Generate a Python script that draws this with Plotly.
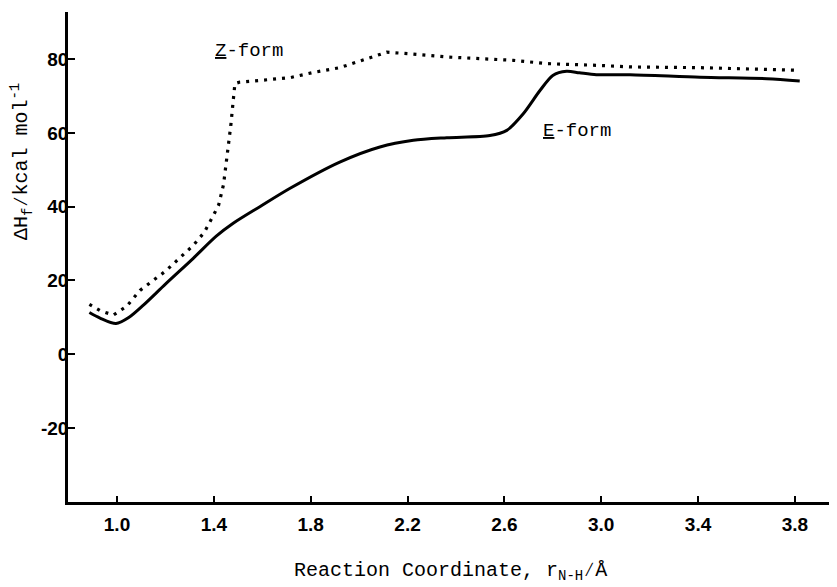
import plotly.graph_objects as go

# E-form (solid) reaction path
e_x = [0.886, 0.93, 0.996, 1.05, 1.109, 1.2, 1.315, 1.41, 1.48, 1.59, 1.715, 1.92, 2.086, 2.224,
       2.362, 2.54, 2.61, 2.678, 2.747, 2.80, 2.857, 2.91, 2.98, 3.119, 3.408, 3.684, 3.82]
e_y = [11.3, 9.8, 8.3, 10.0, 13.3, 19.0, 26.0, 32.0, 35.5, 40.0, 45.0, 52.1, 56.2, 58.0,
       58.7, 59.3, 60.7, 65.2, 71.5, 75.6, 76.7, 76.3, 75.8, 75.8, 75.1, 74.7, 74.1]

# Z-form (dotted) reaction path
z_x = [0.886, 0.93, 0.985, 1.04, 1.095, 1.2, 1.315, 1.36, 1.398, 1.42, 1.44, 1.453, 1.47, 1.487,
       1.508, 1.6, 1.715, 1.81, 1.92, 2.045, 2.114, 2.2, 2.362, 2.637, 2.775, 2.995, 3.119, 3.408, 3.808]
z_y = [13.5, 11.8, 10.6, 13.0, 17.3, 22.5, 29.5, 33.0, 37.6, 40.5, 46.0, 52.6, 62.0, 73.4,
       73.8, 74.3, 75.0, 76.4, 77.7, 80.4, 81.9, 81.5, 80.6, 79.7, 78.8, 78.3, 77.9, 77.7, 77.0]

x_ticks = [1.0, 1.4, 1.8, 2.2, 2.6, 3.0, 3.4, 3.8]
x_tick_text = ["1.0", "1.4", "1.8", "2.2", "2.6", "3.0", "3.4", "3.8"]
y_ticks = [-20, 0, 20, 40, 60, 80]
y_tick_text = ["-20", "0", "20", "40", "60", "80"]

# page has an 8px body margin; figure coords = page coords - 8
W, H = 829, 579
L, R, T, B = 60, 7, 4, 85
PW, PH = W - L - R, H - T - B

def px(xp):
    return (xp - 8 - L) / PW

def py(yp):
    return (H - B - (yp - 8)) / PH

fig = go.Figure()
fig.add_trace(go.Scatter(x=z_x, y=z_y, mode="lines",
                         line=dict(color="black", width=3.2, dash="3px,6px"), name="Z-form"))
fig.add_trace(go.Scatter(x=e_x, y=e_y, mode="lines", line_shape="spline",
                         line=dict(color="black", width=3, smoothing=0.8), name="E-form"))

tick_font = dict(family="Liberation Sans Narrow, Liberation Sans, Arial, sans-serif",
                 size=19, color="black", weight="bold")
mono = "Liberation Mono, Courier New, monospace"

fig.update_layout(
    width=W, height=H,
    margin=dict(l=L, r=R, t=T, b=B),
    paper_bgcolor="white", plot_bgcolor="white",
    showlegend=False,
    xaxis=dict(range=[0.7976, 3.945], tickvals=x_ticks, ticktext=x_tick_text,
               showgrid=False, zeroline=False, showline=True, linecolor="black", linewidth=2.5,
               ticks="inside", ticklen=6, tickwidth=2, tickcolor="black",
               tickfont=tick_font, ticklabelstandoff=3),
    yaxis=dict(range=[-40.1, 92.8], tickvals=y_ticks, ticktext=y_tick_text,
               showgrid=False, zeroline=False, showline=True, linecolor="black", linewidth=2.5,
               ticks="inside", ticklen=7, tickwidth=2, tickcolor="black",
               tickfont=tick_font, ticklabelstandoff=-7),
    font=dict(family=mono, color="black"),
)

fig.add_annotation(text="<u>Z</u>-form", x=px(249), y=py(51), xref="paper", yref="paper",
                   showarrow=False, xanchor="center", yanchor="middle",
                   font=dict(family=mono, size=19, color="black"))
fig.add_annotation(text="<u>E</u>-form", x=px(577), y=py(131), xref="paper", yref="paper",
                   showarrow=False, xanchor="center", yanchor="middle",
                   font=dict(family=mono, size=19, color="black"))
fig.add_annotation(text="ΔH<sub>f</sub>∕kcal mol<sup>-1</sup>", x=px(21), y=py(162),
                   xref="paper", yref="paper", showarrow=False, textangle=-90,
                   xanchor="center", yanchor="middle",
                   font=dict(family=mono, size=20, color="black"))
fig.add_annotation(text="Reaction Coordinate, r<sub>N-H</sub>∕Å", x=px(451), y=py(571),
                   xref="paper", yref="paper", showarrow=False,
                   xanchor="center", yanchor="middle",
                   font=dict(family=mono, size=20, color="black"))

fig.write_html("out.html")
